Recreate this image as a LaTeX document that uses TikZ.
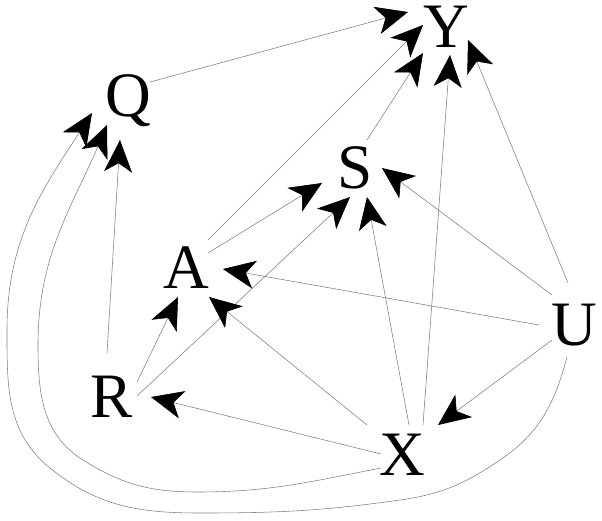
\documentclass[tikz,border=0pt]{standalone}
\usepackage{fontspec}
\setmainfont{Liberation Serif}
\usetikzlibrary{arrows.meta,calc}

\begin{document}
\begin{tikzpicture}[
  x=0.025cm,
  y=-0.025cm,
  var/.style={inner sep=0pt, text height=29.5pt, text depth=0pt, font=\fontsize{45}{45}\selectfont},
  link/.style={black!50, line width=0.4pt, -{Stealth[length=0.8cm, width=0.7cm, inset=0.22cm, black]}}
]
\useasboundingbox (0,0) rectangle (602,520);

% variables
\node[var] (Y) at (446,27) {Y};
\node[var] (Q) at (128,96) {Q};
\node[var] (S) at (355,168) {S};
\node[var] (A) at (186,268) {A};
\node[var] (U) at (574,325) {U};
\node[var] (R) at (112,397) {R};
\node[var] (X) at (402,455) {X};

% into Y
\draw[link] ($(Q.center)+(22,-14)$) -- ($(Y.center)+(-38,-15)$);
\draw[link] ($(A.center)+(22,-28)$) -- ($(Y.center)+(-23,-2)$);
\draw[link] ($(S.center)+(12,-28)$) -- ($(Y.center)+(-23,26)$);
\draw[link] ($(X.center)+(21,-30)$) -- ($(Y.center)+(4,28)$);
\draw[link] ($(U.center)+(-6,-42)$) -- ($(Y.center)+(22,13)$);

% into S
\draw[link] ($(A.center)+(22,-15)$) -- ($(S.center)+(-33,15)$);
\draw[link] ($(R.center)+(25,-1)$) -- ($(S.center)+(-5,29)$);
\draw[link] ($(X.center)+(7,-30)$) -- ($(S.center)+(12,29)$);
\draw[link] ($(U.center)+(-22,-30)$) -- ($(S.center)+(27,0)$);

% into A
\draw[link] ($(U.center)+(-35,0)$) -- ($(A.center)+(37,1)$);
\draw[link] ($(R.center)+(25,-15)$) -- ($(A.center)+(-8,29)$);
\draw[link] ($(X.center)+(-35,-30)$) -- ($(A.center)+(23,29)$);

% into X and R
\draw[link] ($(U.center)+(-22,15)$) -- ($(X.center)+(36,-30)$);
\draw[link] ($(X.center)+(-21,-1)$) -- ($(R.center)+(39,0)$);

% into Q
\draw[link] ($(R.center)+(-5,-44)$) -- ($(Q.center)+(-8,44)$);
\draw[link] ($(X.center)+(-21,13)$) to[out=191,in=0] (197,492)
  to[out=180,in=-32] (83,460) to[out=148,in=270] (38,345)
  to[out=90,in=247] ($(Q.center)+(-21,29)$);
\draw[link] ($(U.center)+(-7,32)$) to[out=255,in=34] (500,460)
  to[out=214,in=8] (400,500) to[out=188,in=0] (200,513)
  to[out=180,in=-39] (50,468) to[out=141,in=270] (7,330)
  to[out=90,in=237] ($(Q.center)+(-36,17)$);
\end{tikzpicture}
\end{document}
